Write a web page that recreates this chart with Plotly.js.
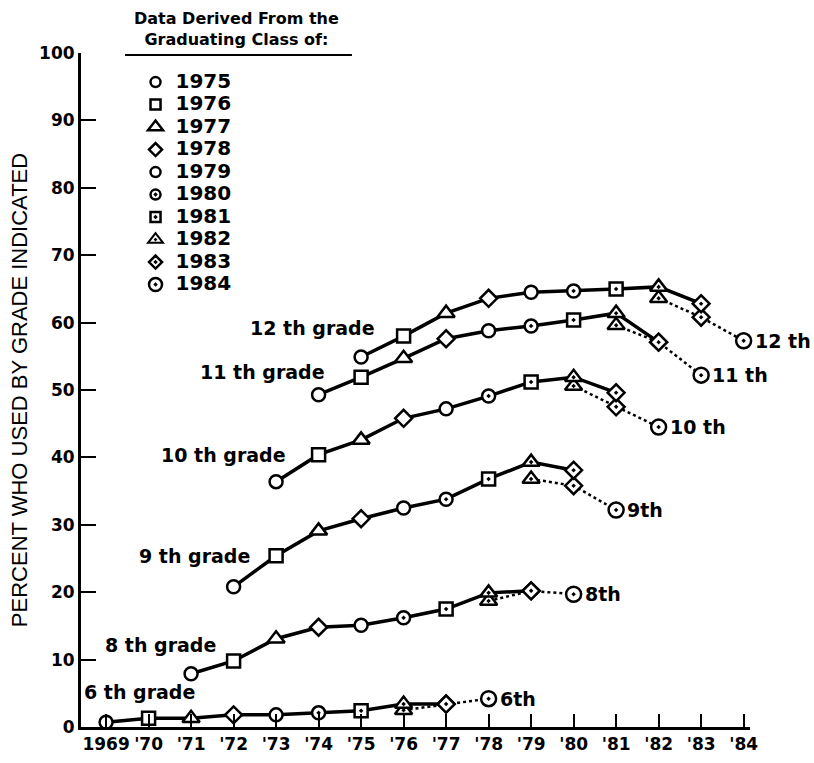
<!DOCTYPE html>
<html>
<head>
<meta charset="utf-8">
<script src="https://cdn.plot.ly/plotly-3.0.1.min.js"></script>
<style>html,body{margin:0;padding:0;background:#fff;}#chart{width:814px;height:763px;}</style>
</head>
<body>
<div id="chart"></div>
<script>
// Graduating classes and their marker symbols
const classes = [1975, 1976, 1977, 1978, 1979, 1980, 1981, 1982, 1983, 1984];
const classSymbols = ['circle', 'square', 'triangle-up', 'diamond', 'circle',
  'circle-dot', 'square-dot', 'triangle-up-dot', 'diamond-dot', 'circle-dot'];

const grades = [12, 11, 10, 9, 8, 6];
const gradeLeftLabels = ['12 th grade', '11 th grade', '10 th grade', '9 th grade', '8 th grade', '6 th grade'];
const gradeRightLabels = ['12 th', '11 th', '10 th', '9th', '8th', '6th'];

// Solid (main) series
const g12Years = [1975, 1976, 1977, 1978, 1979, 1980, 1981, 1982, 1983];
const g12Main = [54.9, 58.0, 61.4, 63.6, 64.5, 64.7, 65.0, 65.3, 62.8];
const g11Years = [1974, 1975, 1976, 1977, 1978, 1979, 1980, 1981, 1982];
const g11Main = [49.3, 51.9, 54.7, 57.6, 58.8, 59.5, 60.4, 61.4, 57.1];
const g10Years = [1973, 1974, 1975, 1976, 1977, 1978, 1979, 1980, 1981];
const g10Main = [36.4, 40.4, 42.6, 45.8, 47.2, 49.1, 51.2, 51.9, 49.6];
const g9Years = [1972, 1973, 1974, 1975, 1976, 1977, 1978, 1979, 1980];
const g9Main = [20.8, 25.4, 29.1, 30.9, 32.5, 33.8, 36.8, 39.3, 38.1];
const g8Years = [1971, 1972, 1973, 1974, 1975, 1976, 1977, 1978, 1979];
const g8Main = [7.9, 9.8, 13.1, 14.8, 15.1, 16.2, 17.5, 19.9, 20.2];
const g6Years = [1969, 1970, 1971, 1972, 1973, 1974, 1975, 1976, 1977];
const g6Main = [0.7, 1.3, 1.3, 1.8, 1.8, 2.1, 2.4, 3.4, 3.4];

// Dotted (branch) series
const g12BYears = [1982, 1983, 1984];
const g12Branch = [63.6, 60.8, 57.3];
const g11BYears = [1981, 1982, 1983];
const g11Branch = [59.6, 57.1, 52.2];
const g10BYears = [1980, 1981, 1982];
const g10Branch = [50.6, 47.5, 44.5];
const g9BYears = [1979, 1980, 1981];
const g9Branch = [36.8, 35.8, 32.2];
const g8BYears = [1978, 1979, 1980];
const g8Branch = [18.7, 20.2, 19.7];
const g6BYears = [1976, 1977, 1978];
const g6Branch = [2.5, 3.4, 4.2];

// Label anchor positions (data coords)
const leftLabelX = [1975.38, 1974.2, 1973.28, 1972.44, 1971.64, 1971.14];
const leftLabelY = [59.2, 52.7, 40.4, 25.4, 12.2, 5.2];

const xTickVals = [1969,1970,1971,1972,1973,1974,1975,1976,1977,1978,1979,1980,1981,1982,1983,1984];
const xTickText = ['1969',"'70","'71","'72","'73","'74","'75","'76","'77","'78","'79","'80","'81","'82","'83","'84"];
const yTickVals = [0,10,20,30,40,50,60,70,80,90,100];

const legendTitle = 'Data Derived From the<br>Graduating Class of:';
const yTitle = 'PERCENT WHO USED BY GRADE INDICATED';

const mainYears = [g12Years, g11Years, g10Years, g9Years, g8Years, g6Years];
const mainVals = [g12Main, g11Main, g10Main, g9Main, g8Main, g6Main];
const branchYears = [g12BYears, g11BYears, g10BYears, g9BYears, g8BYears, g6BYears];
const branchVals = [g12Branch, g11Branch, g10Branch, g9Branch, g8Branch, g6Branch];

function symFor(year, grade) {
  const cls = year + (12 - grade);
  return classSymbols[classes.indexOf(cls)];
}
function sizeFor(year, grade) {
  const s = symFor(year, grade);
  const cls = year + (12 - grade);
  if (cls === 1984) return 15;
  if (s.indexOf('triangle') === 0) return 15;
  return 13;
}

const FONT = 'DejaVu Sans, Liberation Sans, Arial, sans-serif';
const FONT2 = 'Liberation Sans, Arial, sans-serif';
const traces = [];
grades.forEach((g, i) => {
  traces.push({
    x: branchYears[i], y: branchVals[i], type: 'scatter', mode: 'lines+markers',
    line: {color: '#000', width: 2.5, dash: 'dot'},
    marker: {symbol: branchYears[i].map(y => symFor(y, g)), size: branchYears[i].map(y => sizeFor(y, g)),
      color: '#fff', opacity: 1, line: {color: '#000', width: 2.5}},
    cliponaxis: false, showlegend: false, hoverinfo: 'x+y'
  });
  traces.push({
    x: mainYears[i], y: mainVals[i], type: 'scatter', mode: 'lines+markers',
    line: {color: '#000', width: 3.5},
    marker: {symbol: mainYears[i].map(y => symFor(y, g)), size: mainYears[i].map(y => sizeFor(y, g)),
      color: '#fff', opacity: 1, line: {color: '#000', width: 2.5}},
    cliponaxis: false, showlegend: false, hoverinfo: 'x+y'
  });
});
classes.forEach((c, i) => {
  const s = classSymbols[i];
  traces.push({
    x: [null], y: [null], type: 'scatter', mode: 'markers',
    name: '<span style="font-size:20px">' + c + '</span>',
    marker: {symbol: s, size: (c === 1984 || s.indexOf('triangle') === 0) ? 13 : 10,
      color: '#fff', line: {color: '#000', width: s === 'triangle-up-dot' ? 2 : 2.5}},
    showlegend: true
  });
});

const annotations = [];
grades.forEach((g, i) => {
  annotations.push({x: leftLabelX[i], y: leftLabelY[i], xref: 'x', yref: 'y', text: gradeLeftLabels[i],
    showarrow: false, xanchor: 'right', yanchor: 'middle', font: {family: FONT, size: 19, color: '#000', weight: 'bold'}});
  const bx = branchYears[i], bv = branchVals[i];
  annotations.push({x: bx[bx.length - 1], y: bv[bv.length - 1], xref: 'x', yref: 'y', text: gradeRightLabels[i],
    showarrow: false, xanchor: 'left', yanchor: 'middle', xshift: 9, font: {family: FONT, size: 19, color: '#000', weight: 'bold'}});
});
annotations.push({x: 0.2317, y: 1.036, xref: 'paper', yref: 'paper', text: legendTitle, showarrow: false,
  xanchor: 'center', yanchor: 'middle', align: 'center',
  font: {family: FONT, size: 16, color: '#000', weight: 'bold'}});

const layout = {
  width: 814, height: 763,
  margin: {l: 81, r: 64, t: 53, b: 36},
  paper_bgcolor: '#fff', plot_bgcolor: '#fff',
  font: {family: FONT, color: '#000'},
  showlegend: true,
  legend: {
    x: 0.0815, y: 0.981, xanchor: 'left', yanchor: 'top', bgcolor: 'rgba(0,0,0,0)',
    font: {family: FONT, size: 15, color: '#000', weight: 'bold'},
    tracegroupgap: 0, itemwidth: 30
  },
  xaxis: {
    range: [1968.41, 1984.15], tickmode: 'array', tickvals: xTickVals, ticktext: xTickText,
    ticks: 'inside', ticklen: 13, tickwidth: 2, tickcolor: '#000',
    showline: true, linecolor: '#000', linewidth: 3, showgrid: false, zeroline: false,
    tickfont: {family: FONT, size: 17, color: '#000', weight: 'bold'}
  },
  yaxis: {
    range: [0, 100], tickmode: 'array', tickvals: yTickVals,
    ticks: 'inside', ticklen: 15, tickwidth: 2, tickcolor: '#000',
    showline: true, linecolor: '#000', linewidth: 3, showgrid: false, zeroline: false,
    tickfont: {family: FONT, size: 17, color: '#000', weight: 'bold'},
    title: {text: yTitle, font: {family: FONT2, size: 22, color: '#000'}, standoff: 6}
  },
  shapes: [{type: 'line', xref: 'paper', yref: 'paper', x0: 0.0658, x1: 0.405, y0: 0.997, y1: 0.997,
    line: {color: '#000', width: 2}}],
  annotations: annotations
};

Plotly.newPlot('chart', traces, layout, {displayModeBar: false, staticPlot: true});
</script>
</body>
</html>
